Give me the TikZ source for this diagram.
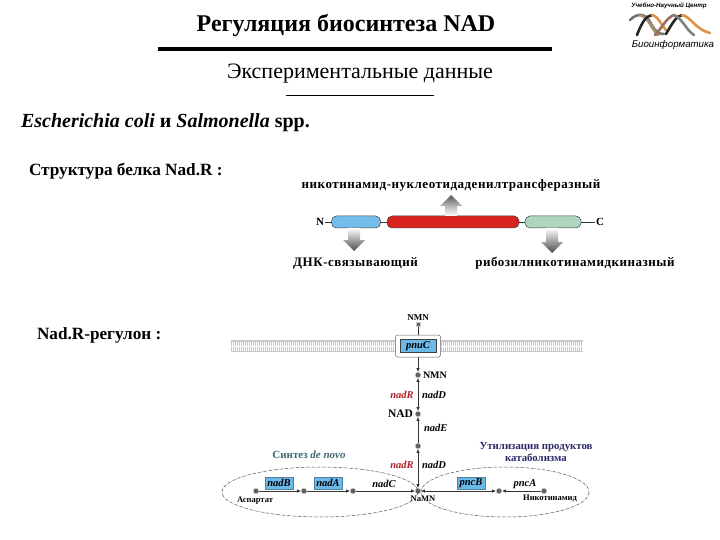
\documentclass[tikz,border=0pt]{standalone}
\usepackage{fontspec}
\setmainfont{Liberation Serif}
\newfontfamily\sansf{Liberation Sans}
\newfontfamily\spaced[LetterSpace=4]{Liberation Serif}
\usetikzlibrary{arrows.meta,calc}
\definecolor{genebl}{HTML}{6CB8E6}
\definecolor{protred}{HTML}{D8231F}
\definecolor{protgr}{HTML}{ADD6C0}
\definecolor{protbl}{HTML}{74BCEB}
\definecolor{denovo}{HTML}{3F6B70}
\definecolor{utilc}{HTML}{2A2A6A}
\definecolor{redg}{HTML}{B02028}
\tikzset{
 tx/.style={inner sep=0pt,outer sep=0pt,anchor=center},
 met/.style={circle,fill=gray!75!black,draw=gray!40,line width=.3pt,minimum size=5.5pt,inner sep=0pt},
 gene/.style={tx,font=\fontsize{10.5}{11}\selectfont\bfseries\itshape},
 genebox/.style={gene,fill=genebl,draw=genebl!70!black,line width=.3pt,minimum width=28pt,minimum height=12pt},
 mname/.style={tx,font=\fontsize{9}{10}\selectfont\bfseries},
 small/.style={tx,font=\fontsize{8.5}{9}\selectfont\bfseries},
 dom/.style={tx,font=\spaced\fontsize{13}{15}\selectfont\bfseries},
 rx/.style={-{Latex[length=4pt,width=3.5pt]},line width=.8pt,black!80},
 rxx/.style={{Latex[length=4pt,width=3.5pt]}-{Latex[length=4pt,width=3.5pt]},line width=.8pt,black!80},
 loopE/.style={densely dash dot,line width=.5pt,black!70},
 prot/.style={draw=black!75,line width=.5pt,rounded corners=5pt},
 link/.style={line width=.6pt,black!80},
 strand/.style={line width=2.6pt,line cap=round},
}
\begin{document}
\begin{tikzpicture}[x=1pt,y=-1pt]
\useasboundingbox (0,0) rectangle (720,540);
\fill[white] (0,0) rectangle (720,540);
% headings
\node[tx,font=\fontsize{24}{26}\selectfont\bfseries] (title) at (346,26) {Регуляция биосинтеза NAD};
\coordinate (r1a) at (158,49); \coordinate (r1b) at (552,49);
\draw[line width=3.4pt] (r1a) -- (r1b);
\node[tx,font=\fontsize{22}{24}\selectfont] (sub) at (360,74) {Экспериментальные данные};
\coordinate (r2a) at (286,95); \coordinate (r2b) at (434,95);
\draw[line width=.6pt] (r2a) -- (r2b);
\node[tx,anchor=west,font=\fontsize{20}{22}\selectfont\bfseries] (org) at (21,123) {\textit{Escherichia coli} и \textit{Salmonella} spp.};
\node[tx,anchor=west,font=\fontsize{17.2}{19}\selectfont\bfseries] (st) at (29,171) {Структура белка Nad.R :};
\node[tx,anchor=west,font=\fontsize{17.2}{19}\selectfont\bfseries] (reg) at (37,335) {Nad.R-регулон :};
% domain labels
\node[dom] (d1) at (451,185) {никотинамид-нуклеотидаденилтрансферазный};
\node[dom] (d2) at (355.5,263) {ДНК-связывающий};
\node[dom] (d3) at (575,263) {рибозилникотинамидкиназный};
% protein
\node[tx,font=\fontsize{11}{12}\selectfont\bfseries] (nt) at (320,222) {N};
\node[tx,font=\fontsize{11}{12}\selectfont\bfseries] (ct) at (600,222) {C};
\node[prot,fill=protbl,minimum width=49pt,minimum height=12pt,tx] (pb) at (356,222) {};
\node[prot,fill=protred,minimum width=132pt,minimum height=12pt,tx] (pr) at (453,222) {};
\node[prot,fill=protgr,minimum width=56pt,minimum height=12pt,tx] (pg) at (553,222) {};
\draw[link] (nt.east) ++(1,0) -- (pb.west);
\draw[link] (pb.east) -- (pr.west);
\draw[link] (pr.east) -- (pg.west);
\draw[link] (pg.east) -- ($(ct.west)+(-1,0)$);
% block arrows
\shade[top color=black!65,bottom color=white,middle color=black!30]
 (451,195) -- (462,206) -- (457,206) -- (457,216) -- (445,216) -- (445,206) -- (440,206) -- cycle;
\shade[top color=white,bottom color=black!70,middle color=black!35]
 (348,228) -- (360,228) -- (360,240) -- (365,240) -- (354,251) -- (343,240) -- (348,240) -- cycle;
\shade[top color=white,bottom color=black!70,middle color=black!35]
 (546,228) -- (558,228) -- (558,242) -- (563,242) -- (552,253) -- (541,242) -- (546,242) -- cycle;
% membrane
\fill[black!22] (231,340) rectangle (583,352);
\foreach \i in {0,1,...,175}{\draw[white,line width=.45pt] ({232+2*\i},341.5) -- ({232+2*\i},350.5);}
\draw[white,line width=.5pt] (231,346) -- (583,346);
% pnuC
\node[tx,draw=black!60,fill=white,rounded corners=2pt,line width=.5pt,minimum width=45pt,minimum height=22pt] (tp) at (418,346) {};
\node[genebox,minimum width=36pt,minimum height=13pt,draw=black!75] (pnuc) at (418,346) {pnuC};
% metabolites
\node[mname] (nmn0) at (418,318) {NMN};
\node[met,rectangle,minimum size=4pt] (m0) at (418,324.5) {};
\node[met] (m1) at (418,375) {};
\node[mname,anchor=west,font=\fontsize{10}{11}\selectfont\bfseries] (nmn1) at (423,375.5) {NMN};
\node[met] (m2) at (418,414) {};
\node[mname,anchor=east,font=\fontsize{11.5}{12}\selectfont\bfseries] (nad) at (413,414) {NAD};
\node[met] (m3) at (418,446) {};
\node[met] (m4) at (418,491) {};
\node[small] (namn) at (423,499) {NaMN};
\node[met] (a1) at (256,491) {};
\node[met] (a2) at (304,491) {};
\node[met] (a3) at (353,491) {};
\node[met] (p1) at (499,491) {};
\node[met] (p2) at (544,491) {};
\node[small] (asp) at (255,501) {Аспартат};
\node[small] (nic) at (550,498) {Никотинамид};
% genes
\node[gene,redg] (g1) at (402,395) {nadR};
\node[gene,anchor=west] (g2) at (422,395) {nadD};
\node[gene,anchor=west] (g3) at (424,428) {nadE};
\node[gene,redg] (g4) at (402,465) {nadR};
\node[gene,anchor=west] (g5) at (422,465) {nadD};
\node[genebox] (gb) at (279,483) {nadB};
\node[genebox] (ga) at (328,483) {nadA};
\node[gene] (gc) at (384,484) {nadC};
\node[genebox] (gp) at (471,483) {pncB};
\node[gene] (gpa) at (525,484) {pncA};
% reactions
\draw[line width=.8pt,black!80] (m0) -- (tp.north);
\draw[rx] (tp.south) -- (m1);
\draw[rxx] (m1) -- (m2);
\draw[rx] (m3) -- (m2);
\draw[rxx] (m3) -- (m4);
\draw[rx] (a1) -- (a2);
\draw[rx] (a2) -- (a3);
\draw[rx] (a3) -- (m4);
\draw[rxx] (m4) -- (p1);
\draw[rx] (p2) -- (p1);
% pathways
\node[tx,denovo,font=\fontsize{11}{12}\selectfont\bfseries] (sy) at (309,455) {Синтез \textit{de novo}};
\node[tx,utilc,align=center,font=\fontsize{10.8}{12}\selectfont\bfseries] (ut) at (536,452) {Утилизация продуктов\\катаболизма};
\draw[loopE] (320,492) ellipse [x radius=98,y radius=25];
\draw[loopE] (505,492) ellipse [x radius=84,y radius=25];
% logo
\node[tx,font=\sansf\fontsize{6.2}{7}\selectfont\bfseries\itshape] (l1) at (669,5.5) {Учебно-Научный Центр};
\node[tx,font=\sansf\fontsize{9.7}{10}\selectfont\itshape] (l2) at (673,44.5) {Биоинформатика};
\draw[strand,black!55] (630,20) .. controls (638,12) and (646,14) .. (650,22) .. controls (654,30) and (659,35) .. (664,34);
\draw[strand,brown!70!black!70] (640,15) .. controls (648,16) and (652,30) .. (658,35);
\draw[strand,black!85] (637,35) .. controls (642,22) and (646,16) .. (652,15);
\draw[strand,orange!40!brown!85] (652,15) .. controls (658,16) and (662,26) .. (666,30);
\draw[strand,brown!70!red!55!black!70] (655,35) .. controls (662,28) and (666,18) .. (674,15);
\draw[strand,black!85] (666,34) .. controls (672,24) and (676,16) .. (682,15);
\draw[strand,black!50] (674,15) .. controls (682,18) and (686,30) .. (694,35);
\draw[strand,orange!40!brown!85] (682,15) .. controls (690,16) and (696,30) .. (710,33);
\end{tikzpicture}
\end{document}
